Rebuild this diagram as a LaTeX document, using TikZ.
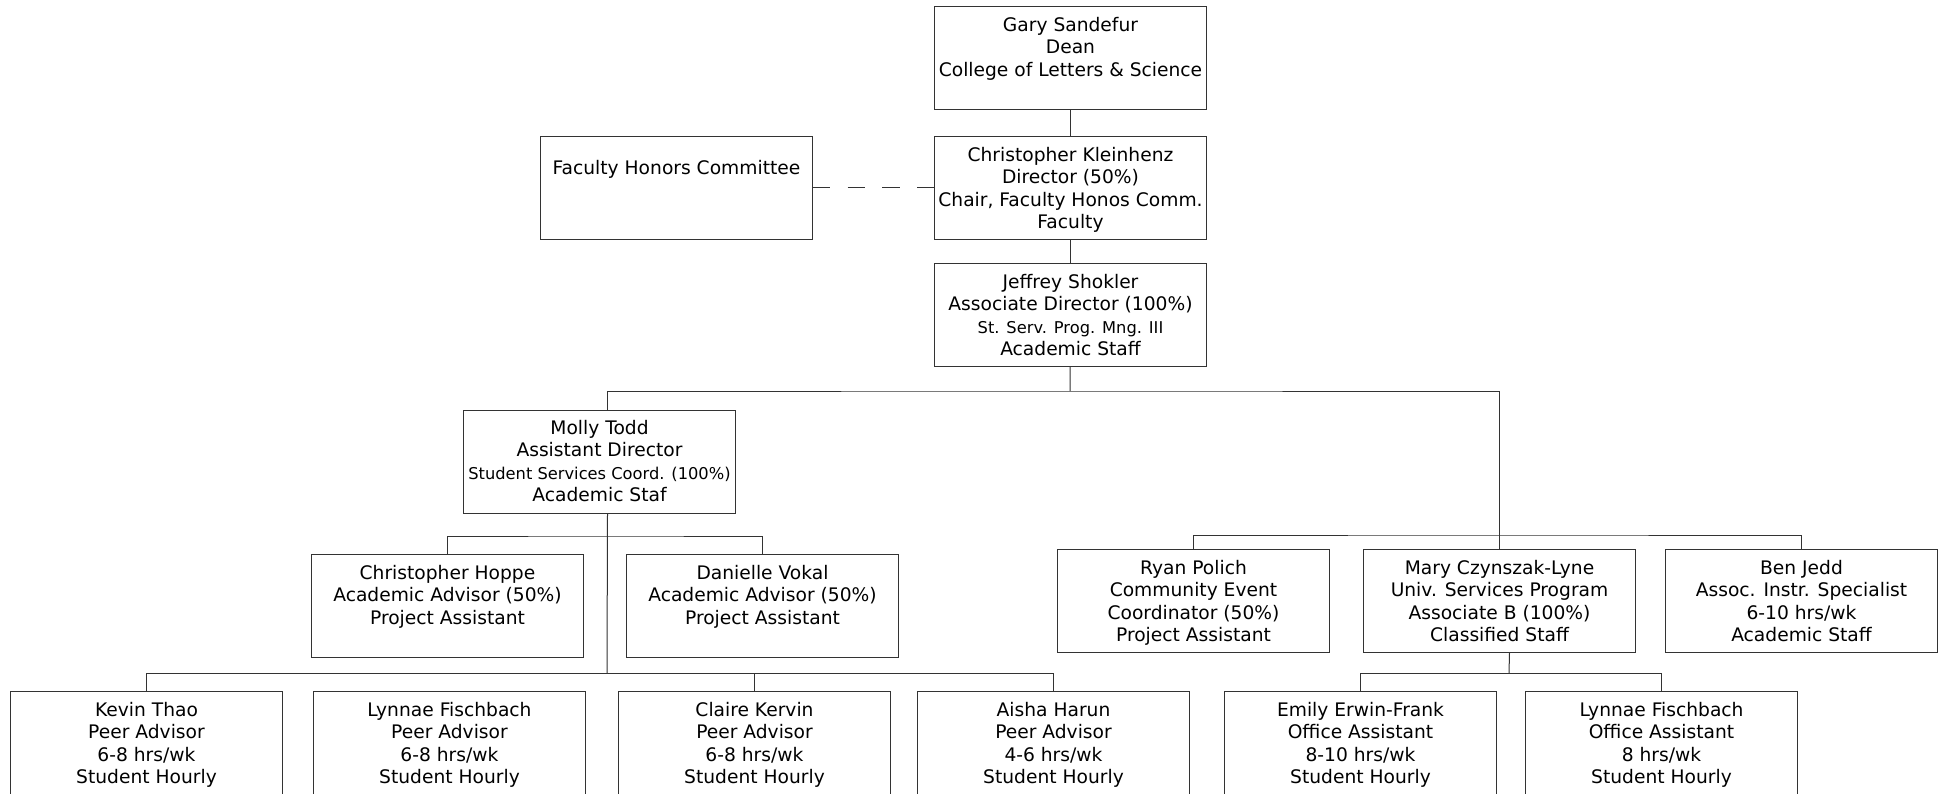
\documentclass[tikz,border=0pt]{standalone}
\usepackage{fontspec}
\setmainfont{DejaVu Sans}
\usetikzlibrary{positioning}
\newcommand{\staffcard}[2][8pt]{\parbox[c][77pt][t]{204pt}{\centering\vspace*{#1}#2}}
\newcommand{\smallline}[1]{{\fontsize{12.2}{16.9}\selectfont #1}}

\begin{document}
\begin{tikzpicture}[x=0.75pt, y=-0.75pt,
	font=\fontsize{14}{16.9}\selectfont,
	staff/.style={draw=black!80, line width=0.75pt, anchor=north west, inner sep=0pt},
	link/.style={draw=black!80, line width=0.75pt}]
\useasboundingbox (0,0) rectangle (1946,793);
\clip (0,0) rectangle (1946,793);
\path (934,6) node[staff] (dean) {\staffcard{Gary Sandefur\\Dean\\College of Letters \& Science}}
		(934,136) node[staff] (director) {\staffcard{Christopher Kleinhenz\\Director (50\%)\\Chair, Faculty Honos Comm.\\Faculty}}
		(540,136) node[staff] (honors) {\staffcard[18pt]{Faculty Honors Committee}}
		(934,263) node[staff] (shokler) {\staffcard{Jeffrey Shokler\\Associate Director (100\%)\\\smallline{St. Serv. Prog. Mng. III}\\Academic Staff}}
		(463,410) node[staff] (todd) {\staffcard[7pt]{Molly Todd\\Assistant Director\\\smallline{Student Services Coord. (100\%)}\\Academic Staf}}
		(311,554) node[staff] (hoppe) {\staffcard{Christopher Hoppe\\Academic Advisor (50\%)\\Project Assistant}}
		(626,554) node[staff] (vokal) {\staffcard{Danielle Vokal\\Academic Advisor (50\%)\\Project Assistant}}
		(10,691) node[staff] (thao) {\staffcard{Kevin Thao\\Peer Advisor\\6-8 hrs/wk\\Student Hourly}}
		(313,691) node[staff] (fischbach) {\staffcard{Lynnae Fischbach\\Peer Advisor\\6-8 hrs/wk\\Student Hourly}}
		(618,691) node[staff] (kervin) {\staffcard{Claire Kervin\\Peer Advisor\\6-8 hrs/wk\\Student Hourly}}
		(917,691) node[staff] (harun) {\staffcard{Aisha Harun\\Peer Advisor\\4-6 hrs/wk\\Student Hourly}}
		(1057,549) node[staff] (polich) {\staffcard{Ryan Polich\\Community Event\\Coordinator (50\%)\\Project Assistant}}
		(1363,549) node[staff] (lyne) {\staffcard{Mary Czynszak-Lyne\\Univ. Services Program\\Associate B (100\%)\\Classified Staff}}
		(1665,549) node[staff] (jedd) {\staffcard{Ben Jedd\\Assoc. Instr. Specialist\\6-10 hrs/wk\\Academic Staff}}
		(1224,691) node[staff] (erwin) {\staffcard{Emily Erwin-Frank\\Office Assistant\\8-10 hrs/wk\\Student Hourly}}
		(1525,691) node[staff] (fischbachb) {\staffcard{Lynnae Fischbach\\Office Assistant\\8 hrs/wk\\Student Hourly}};

\coordinate (jbus) at (1070,391);
\coordinate (rbus) at (1499,535);
\coordinate (abus) at (607,536);
\coordinate (pbus) at (607,673);
\coordinate (mbus) at (1509,673);

\draw[link] (dean) -- (director);
\draw[link, dash pattern=on 13pt off 13pt] (honors) -- (director);
\draw[link] (director) -- (shokler);
\draw[link] (shokler) -- (jbus);
\draw[link] ([xshift=6pt]todd.north) |- (jbus) -| (lyne);
\draw[link] (polich) |- (rbus) -| (jedd);

\draw[link] ([xshift=6pt]todd.south) -- (pbus);
\draw[link] (hoppe) |- (abus) -| (vokal);
\draw[link] (thao) |- (pbus) -| (harun);
\draw[link] (kervin) -- (kervin |- pbus);

\draw[link] ([xshift=7.5pt]lyne.south) -- (mbus);
\draw[link] (erwin) |- (mbus) -| (fischbachb);
\end{tikzpicture}
\end{document}
